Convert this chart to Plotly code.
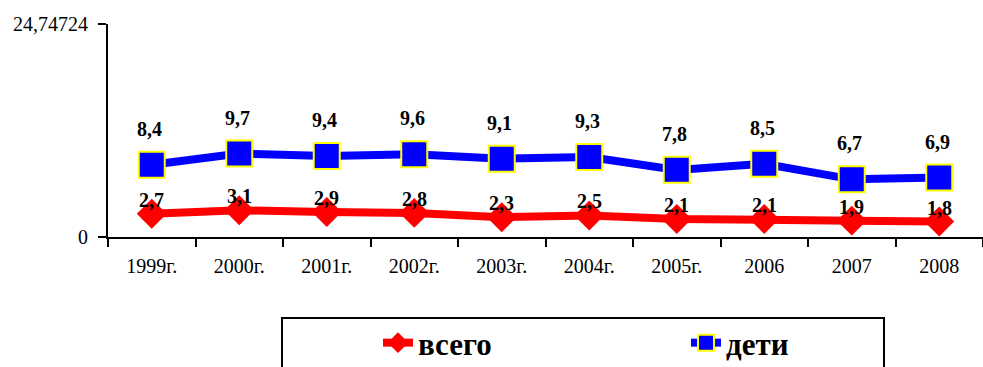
import plotly.graph_objects as go

# Годы наблюдения
years = ["1999г.", "2000г.", "2001г.", "2002г.", "2003г.", "2004г.",
         "2005г.", "2006", "2007", "2008"]
# Показатели по всему населению и по детям
vsego = [2.7, 3.1, 2.9, 2.8, 2.3, 2.5, 2.1, 2.1, 1.9, 1.8]
deti = [8.4, 9.7, 9.4, 9.6, 9.1, 9.3, 7.8, 8.5, 6.7, 6.9]
y_max = 24.74724
y_ticks = [0, y_max]
y_ticktext = ["0", "24,74724"]

W, H = 983, 367
L, R, T, B = 108, 0, 24, 130
PW, PH = W - L - R, H - T - B


def px_x(p):
    return (p - L) / PW


def px_y(p):
    return (H - B - p) / PH


def fmt(v):
    return f"{v:.1f}".replace(".", ",")


serif = "Liberation Serif, Times New Roman, serif"

fig = go.Figure()
fig.add_trace(go.Scatter(
    x=years, y=vsego, name="всего", mode="lines+markers",
    line=dict(color="#ff0000", width=8),
    marker=dict(symbol="diamond", size=23, color="#ff0000"),
))
fig.add_trace(go.Scatter(
    x=years, y=deti, name="дети", mode="lines+markers",
    line=dict(color="#0000ff", width=8),
    marker=dict(symbol="square", size=26, color="#0000ff",
                line=dict(color="#ffff00", width=2)),
))

# Подписи значений; позиция по индексу категории
annotations = []
for i, v in enumerate(deti):
    annotations.append(dict(x=i, y=v, xref="x", yref="y", text=f"<b>{fmt(v)}</b>",
                            showarrow=False, yshift=36, xshift=-2,
                            font=dict(family=serif, size=20, color="black")))
for i, v in enumerate(vsego):
    annotations.append(dict(x=i, y=v, xref="x", yref="y", text=f"<b>{fmt(v)}</b>",
                            showarrow=False, yshift=14,
                            font=dict(family=serif, size=20, color="black")))

fig.update_layout(
    width=W, height=H,
    margin=dict(l=L, r=R, t=T, b=B, autoexpand=False),
    paper_bgcolor="white", plot_bgcolor="white",
    font=dict(family=serif, size=20, color="black"),
    annotations=annotations,
    showlegend=True,
    legend=dict(
        orientation="h", x=px_x(378), y=px_y(316), xanchor="left", yanchor="top",
        xref="paper", yref="paper",
        bgcolor="rgba(0,0,0,0)", borderwidth=0,
        entrywidth=263, entrywidthmode="pixels",
        font=dict(family=serif, size=31, color="black", weight="bold"),
    ),
    shapes=[dict(type="rect", xref="paper", yref="paper",
                 x0=px_x(282), x1=px_x(884), y0=px_y(318), y1=px_y(400),
                 line=dict(color="black", width=2), fillcolor="rgba(0,0,0,0)")],
    xaxis=dict(
        type="category", range=[-0.5, len(years) - 0.5],
        showline=True, linecolor="black", linewidth=2,
        ticks="outside", tickson="boundaries", ticklen=8, tickwidth=2, tickcolor="black",
        showgrid=False, zeroline=False, ticklabelstandoff=10,
    ),
    yaxis=dict(
        range=[0, y_max], tickvals=y_ticks, ticktext=y_ticktext,
        showline=True, linecolor="black", linewidth=2,
        ticks="outside", ticklen=8, tickwidth=2, tickcolor="black",
        showgrid=False, zeroline=False, ticklabelstandoff=6,
    ),
)

fig.write_html("out.html")
